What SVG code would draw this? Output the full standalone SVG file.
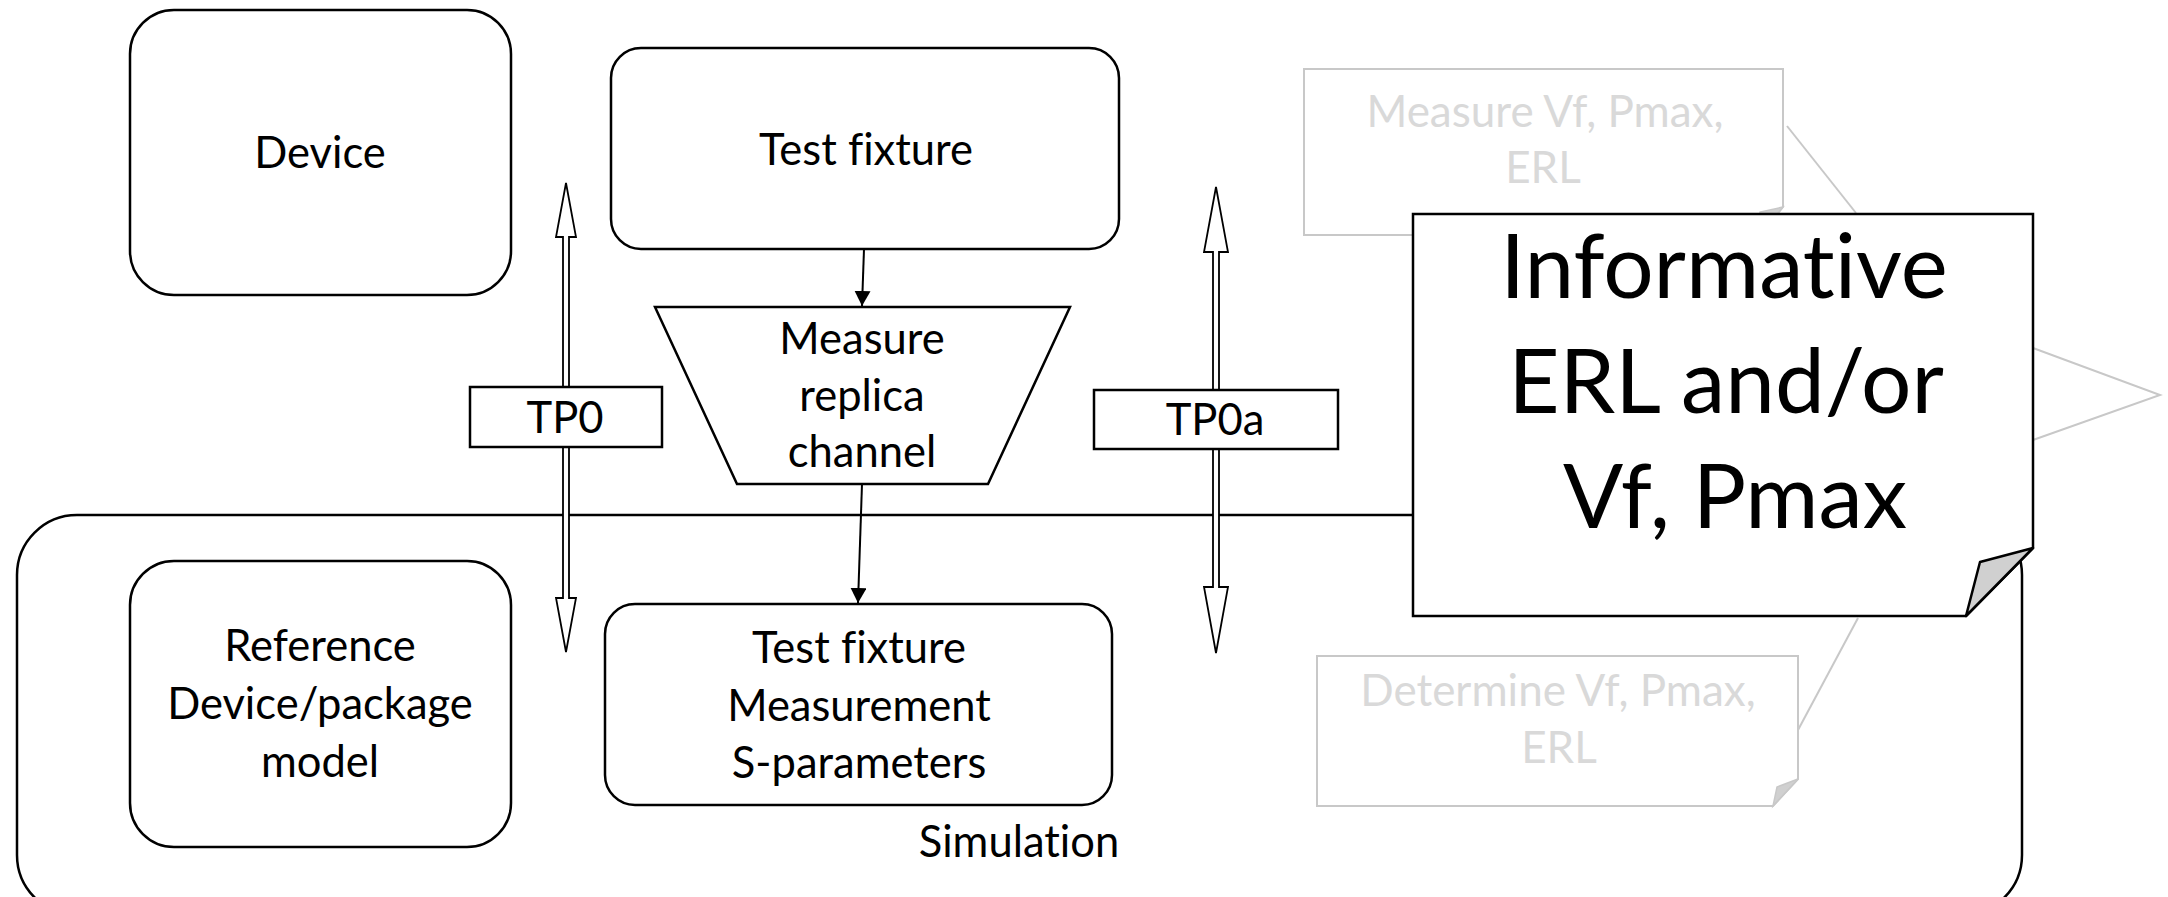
<svg xmlns="http://www.w3.org/2000/svg" width="2168" height="897" viewBox="0 0 2168 897">
<style>
text{font-variant-ligatures:none;font-family:Lato,"Liberation Sans",sans-serif;text-anchor:middle}
.box{fill:#fff;stroke:#000;stroke-width:2.5}
.t{font-size:43.5px;fill:#000}
.g{font-size:44px;fill:#d9d9d9}
.big{font-size:89px;fill:#000}
.ghost{fill:#fff;stroke:#c8c8c8;stroke-width:2}
.gl{fill:none;stroke:#c8c8c8;stroke-width:2}
.conn{fill:none;stroke:#000;stroke-width:2}
.hollow{fill:#fff;stroke:#000;stroke-width:1.8}
</style>
<defs>
<marker id="ah" markerWidth="16" markerHeight="16" refX="15" refY="8" orient="auto" markerUnits="userSpaceOnUse">
<path d="M0,0 L15,8 L0,16 Z" fill="#000"/>
</marker>
</defs>
<rect width="2168" height="897" fill="#fff"/>

<g id="simulation">
<rect class="box" x="17" y="515" width="2005" height="400" rx="60" ry="60"/>
<text class="t" x="1019" y="857">Simulation</text>
</g>

<g id="device">
<rect class="box" x="130" y="10" width="381" height="285" rx="44" ry="44"/>
<text class="t" x="320" y="168">Device</text>
</g>

<g id="test-fixture">
<rect class="box" x="611" y="48" width="508" height="201" rx="30" ry="30"/>
<text class="t" x="866" y="165">Test fixture</text>
</g>

<g id="measure-replica">
<polygon class="box" points="655,307 1070,307 988,484 737,484"/>
<text class="t" x="862" y="354">Measure</text>
<text class="t" x="862" y="411">replica</text>
<text class="t" x="862" y="467">channel</text>
</g>

<g id="reference-model">
<rect class="box" x="130" y="561" width="381" height="286" rx="44" ry="44"/>
<text class="t" x="320" y="661">Reference</text>
<text class="t" x="320" y="719">Device/package</text>
<text class="t" x="320" y="777">model</text>
</g>

<g id="fixture-sparams">
<rect class="box" x="605" y="604" width="507" height="201" rx="30" ry="30"/>
<text class="t" x="859" y="663">Test fixture</text>
<text class="t" x="859" y="721">Measurement</text>
<text class="t" x="859" y="778">S-parameters</text>
</g>

<g id="connectors">
<line class="conn" x1="864" y1="249" x2="862" y2="306" marker-end="url(#ah)"/>
<line class="conn" x1="862" y1="484" x2="858" y2="603" marker-end="url(#ah)"/>
<polygon class="hollow" points="566,183 576,237 569,237 569,598 576,598 566,652 556,598 563,598 563,237 556,237"/>
<polygon class="hollow" points="1216,187 1228,252 1219,252 1219,587 1228,587 1216,653 1204,587 1213,587 1213,252 1204,252"/>
</g>

<g id="tp0">
<rect class="box" x="470" y="387" width="192" height="60"/>
<text class="t" x="565" y="433">TP0</text>
</g>

<g id="tp0a">
<rect class="box" x="1094" y="390" width="244" height="59"/>
<text class="t" x="1215" y="435">TP0a</text>
</g>

<g id="ghost-measure">
<line class="gl" x1="1787" y1="126" x2="1856" y2="213"/>
<path class="ghost" d="M1304,69 H1783 V207 L1760,235 H1304 Z"/>
<path d="M1783,207 L1760,212 L1760,235 Z" fill="#d0d0d0" stroke="#c8c8c8" stroke-width="1.5"/>
<text class="g" x="1545" y="127">Measure Vf, Pmax,</text>
<text class="g" x="1543" y="183">ERL</text>
</g>

<g id="ghost-determine">
<line class="gl" x1="1798" y1="730" x2="1858" y2="618"/>
<path class="ghost" d="M1317,656 H1798 V779 L1773,806 H1317 Z"/>
<path d="M1798,779 L1777,787 L1773,806 Z" fill="#d0d0d0" stroke="#c8c8c8" stroke-width="1.5"/>
<text class="g" x="1558" y="706">Determine Vf, Pmax,</text>
<text class="g" x="1559" y="763">ERL</text>
</g>

<g id="informative">
<path class="gl" d="M2033,348 L2160,395 L2033,440"/>
<path class="box" d="M1413,214 H2033 V548 L1966,616 H1413 Z"/>
<path d="M2033,548 L1980,562 L1966,616 Z" fill="#d0d0d0" stroke="#000" stroke-width="2.5" stroke-linejoin="round"/>
<text class="big" x="1724" y="298">Informative</text>
<text class="big" x="1726" y="413">ERL and/or</text>
<text class="big" x="1735" y="528">Vf, Pmax</text>
</g>
</svg>
